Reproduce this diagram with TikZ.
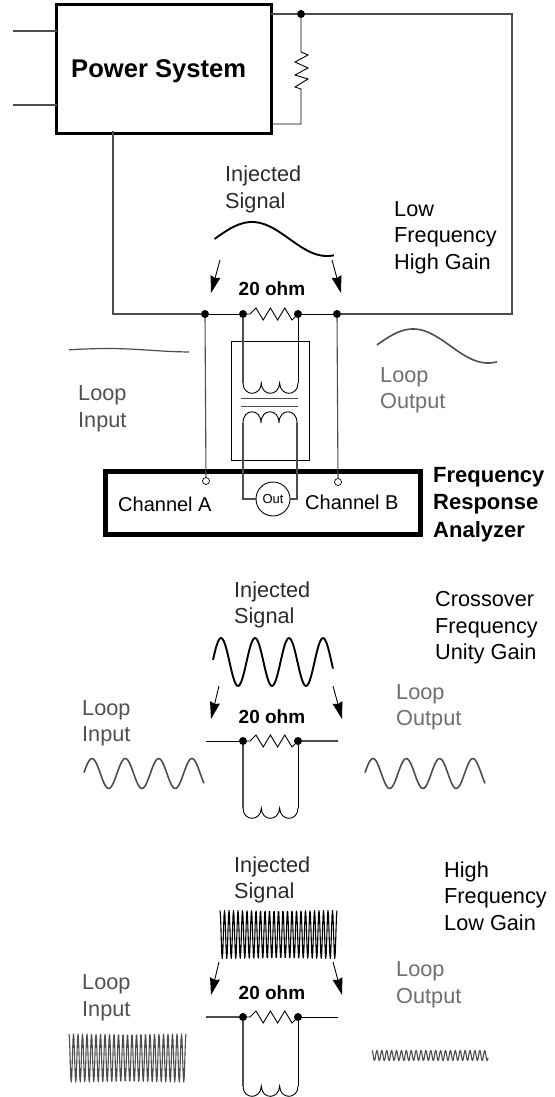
\documentclass[tikz,border=0pt]{standalone}
\usepackage{fontspec}
\setmainfont{Liberation Sans}
\usetikzlibrary{arrows.meta}
\definecolor{wiregray}{HTML}{4D4D4D}
\definecolor{txtdark}{HTML}{2B2B2B}
\definecolor{txtmid}{HTML}{505050}
\definecolor{txtlight}{HTML}{6E6E6E}
\tikzset{
  x=1pt,y=-1pt,
  wire/.style={draw=wiregray,line width=1.1pt},
  thin wire/.style={draw=black,line width=0.9pt},
  dotnode/.style={circle,fill=black,inner sep=0pt,minimum size=8pt},
  port/.style={circle,draw=black,fill=white,line width=0.7pt,inner sep=0pt,minimum size=7pt},
  lbl/.style={anchor=north west,inner sep=0pt,align=left,font=\fontsize{21.7}{26.5}\selectfont},
  boldlbl/.style={anchor=north west,inner sep=0pt,align=left,font=\fontsize{22}{27.5}\selectfont\bfseries},
  ohm/.style={anchor=center,inner sep=0pt,font=\fontsize{19}{22}\selectfont\bfseries},
  inj/.style={-{Stealth[length=17pt,width=10pt,inset=1.5pt]},line width=0.9pt,black},
  sig/.style={line width=1.9pt,black,line join=round},
  sigin/.style={line width=1.6pt,draw=wiregray,line join=round},
  sigfine/.style={line width=1.1pt,draw=black,line join=round},
  box/.style={draw=black,line width=3pt,fill=none,outer sep=0pt},
}
% three downward loops between x=243 and x=298, top at y
\newcommand{\coil}[2]{\draw[thin wire] (243,#1) .. controls (243,#1+#2*1.25) and (261,#1+#2*1.25) .. (261.3,#1) .. controls (261.6,#1+#2*1.25) and (279,#1+#2*1.25) .. (279.6,#1) .. controls (280,#1+#2*1.25) and (298,#1+#2*1.25) .. (298,#1);}
% sine wave: x0,x1,mid y,amplitude,x of first crest,period,style
\newcommand{\wave}[7]{\draw[#7] plot[smooth,domain=#1:#2,samples=90] (\x,{#3-#4*cos((\x-#5)/#6*360)});}
\newcommand{\dense}[7]{\draw[#7] plot[domain=#1:#2,samples=260] (\x,{#3-#4*cos((\x-#5)/#6*360)});}
\begin{document}
\begin{tikzpicture}
\useasboundingbox (0,0) rectangle (554,1097);
% ---------- Power system
\node[box,minimum width=214.5pt,minimum height=129pt,inner sep=0pt,anchor=north west] (ps) at (56.5,5) {};
\node[anchor=west,inner sep=0pt,font=\fontsize{25.6}{28}\selectfont\bfseries] (pstext) at (71,71) {Power System};
\coordinate (inA) at (13,31); \coordinate (inB) at (13,105);
\coordinate (psA) at (ps.west |- inA); \coordinate (psB) at (ps.west |- inB);
\draw[wire] (inA) -- (psA);
\draw[wire] (inB) -- (psB);
\node[dotnode] (top) at (301,14) {};
\coordinate (corner) at (512,14);
\coordinate (bcorner) at (512,314);
\coordinate (lcorner) at (113,314);
\coordinate (psOut) at (113,131);
\node[dotnode] (n1) at (205,314) {};
\node[dotnode] (n2) at (243,314) {};
\node[dotnode] (n3) at (298,314) {};
\node[dotnode] (n4) at (337,314) {};
\draw[wire] (ps.east |- top) -- (top) -- (corner) -- (bcorner) -- (n4);
\draw[wire] (psOut) -- (lcorner) -- (n1);
% load resistor
\draw[thin wire] (top) -- (301,52) -- (308,55) -- (295,62) -- (308,68) -- (295,75) -- (308,79) -- (295,87) -- (301,89) -- (301,124) -- (ps.east |- 0,124);
% series 20 ohm
\draw[thin wire] (n1) -- (n2);
\draw[thin wire] (n3) -- (n4);
\draw[thin wire] (n2) -- ++(7,0) -- ++(6,-6) -- ++(7.2,12) -- ++(7.2,-12) -- ++(7.2,12) -- ++(7.2,-12) -- ++(7.2,12) -- (n3);
\node[ohm] (o1) at (272,289) {20 ohm};
% transformer
\node[draw=black,line width=0.9pt,outer sep=0pt,minimum width=78pt,minimum height=119pt,inner sep=0pt,anchor=north west] (xf) at (231,341) {};
\draw[wire] (n2) -- (243,383);
\draw[thin wire] (n3) -- (298,383);
\coil{383}{11}
\draw[wire,line width=0.8pt] (241,398) -- (298,398);
\draw[wire,line width=0.8pt] (241,406) -- (298,406);
\draw[thin wire] (243,423) .. controls (243,408) and (261,408) .. (261,423) .. controls (261,408) and (279,408) .. (279,423) .. controls (279,408) and (297,408) .. (297,423);
% analyzer
\node[draw=black,line width=5pt,outer sep=0pt,minimum width=315pt,minimum height=63pt,inner sep=0pt,anchor=north west] (fra) at (105.5,471.5) {};
\node[circle,draw=black,line width=0.9pt,minimum size=34pt,inner sep=0pt,font=\fontsize{13}{15}\selectfont] (out) at (273,499) {Out};
\draw[wire] (243,423) -- (243,499) -- (out);
\draw[wire] (297,423) -- (297,499) -- (out);
\node[port] (pa) at (206,481) {};
\node[port] (pb) at (338,482) {};
\draw[wire] (n1) -- (pa);
\draw[wire] (n4) -- (pb);
\node[anchor=west,inner sep=0pt,font=\fontsize{20}{24}\selectfont] (cha) at (118,504) {Channel A};
\node[anchor=west,inner sep=0pt,font=\fontsize{20}{24}\selectfont] (chb) at (305,502) {Channel B};
\node[boldlbl] (fr) at (433,467) {Frequency\\Response\\Analyzer};
% labels
\node[lbl,txtdark] (inj1) at (225,166) {Injected\\Signal};
\node[lbl] (low) at (394,201) {Low\\Frequency\\High Gain};
\node[lbl,txtmid] (li1) at (78,385.5) {Loop\\Input};
\node[lbl,txtlight] (lo1) at (380,367) {Loop\\Output};
% waves top
\coordinate (a1s) at (220,260); \coordinate (a1e) at (211,293);
\coordinate (a2s) at (332,260); \coordinate (a2e) at (341,293);
\draw[inj] (a1s) -- (a1e);
\draw[inj] (a2s) -- (a2e);
\wave{214.5}{334}{239}{17}{252}{150}{sig}
\draw[sigin,line width=1.2pt] plot[smooth,domain=69:189,samples=40] (\x,{350-1.5*cos((\x-110)/160*360)+0.006*(\x-110)});
\wave{377}{497}{346}{17}{413}{150}{sigin}
% ---------- Crossover
\node[lbl,txtdark] (inj2) at (234,581.5) {Injected\\Signal};
\node[lbl] (cross) at (435,591.5) {Crossover\\Frequency\\Unity Gain};
\node[lbl,txtmid] (li2) at (82,700) {Loop\\Input};
\node[lbl,txtlight] (lo2) at (396,684) {Loop\\Output};
\wave{213}{333}{662}{24}{221}{34}{sig}
\coordinate (b1s) at (219,686); \coordinate (b1e) at (211,719);
\coordinate (b2s) at (333,686); \coordinate (b2e) at (342,719);
\draw[inj] (b1s) -- (b1e);
\draw[inj] (b2s) -- (b2e);
\node[ohm] (o2) at (272,717) {20 ohm};
\coordinate (c2l) at (206,741); \coordinate (c2r) at (338,741);
\node[dotnode] (m2) at (243,741) {};
\node[dotnode] (m3) at (298,741) {};
\draw[thin wire] (c2l) -- (m2);
\draw[wire] (m3) -- (c2r);
\draw[thin wire] (m2) -- ++(7,0) -- ++(6,-6) -- ++(7.2,12) -- ++(7.2,-12) -- ++(7.2,12) -- ++(7.2,-12) -- ++(7.2,12) -- (m3);
\draw[wire] (m2) -- (243,808);
\draw[thin wire] (m3) -- (298,808);
\coil{808}{11}
\wave{84}{204}{773.5}{15}{92}{33.3}{sigin}
\wave{365}{485}{773.5}{15}{373}{33.3}{sigin}
% ---------- High frequency
\node[lbl,txtdark] (inj3) at (234,856.5) {Injected\\Signal};
\node[lbl] (hf) at (444,861.5) {High\\Frequency\\Low Gain};
\node[lbl,txtmid] (li3) at (82,974.5) {Loop\\Input};
\node[lbl,txtlight] (lo3) at (396,961.5) {Loop\\Output};
\dense{220}{337}{934.5}{24}{220}{4.5}{sigfine}
\coordinate (c1s) at (219,962); \coordinate (c1e) at (211,995);
\coordinate (c2s) at (333,962); \coordinate (c2e) at (342,995);
\draw[inj] (c1s) -- (c1e);
\draw[inj] (c2s) -- (c2e);
\node[ohm] (o3) at (272,993) {20 ohm};
\coordinate (d2l) at (206,1017); \coordinate (d2r) at (338,1017);
\node[dotnode] (h2) at (243,1017) {};
\node[dotnode] (h3) at (298,1017) {};
\draw[wire] (d2l) -- (h2);
\draw[thin wire] (h3) -- (d2r);
\draw[thin wire] (h2) -- ++(7,0) -- ++(6,-6) -- ++(7.2,12) -- ++(7.2,-12) -- ++(7.2,12) -- ++(7.2,-12) -- ++(7.2,12) -- (h3);
\draw[wire] (h2) -- (243,1086);
\draw[thin wire] (h3) -- (298,1086);
\coil{1086}{11}
\dense{69}{186}{1058}{24}{69}{4.5}{sigfine,draw=wiregray}
\dense{372}{488}{1055.5}{5}{372}{4.9}{sigfine,draw=wiregray}
\end{tikzpicture}
\end{document}
